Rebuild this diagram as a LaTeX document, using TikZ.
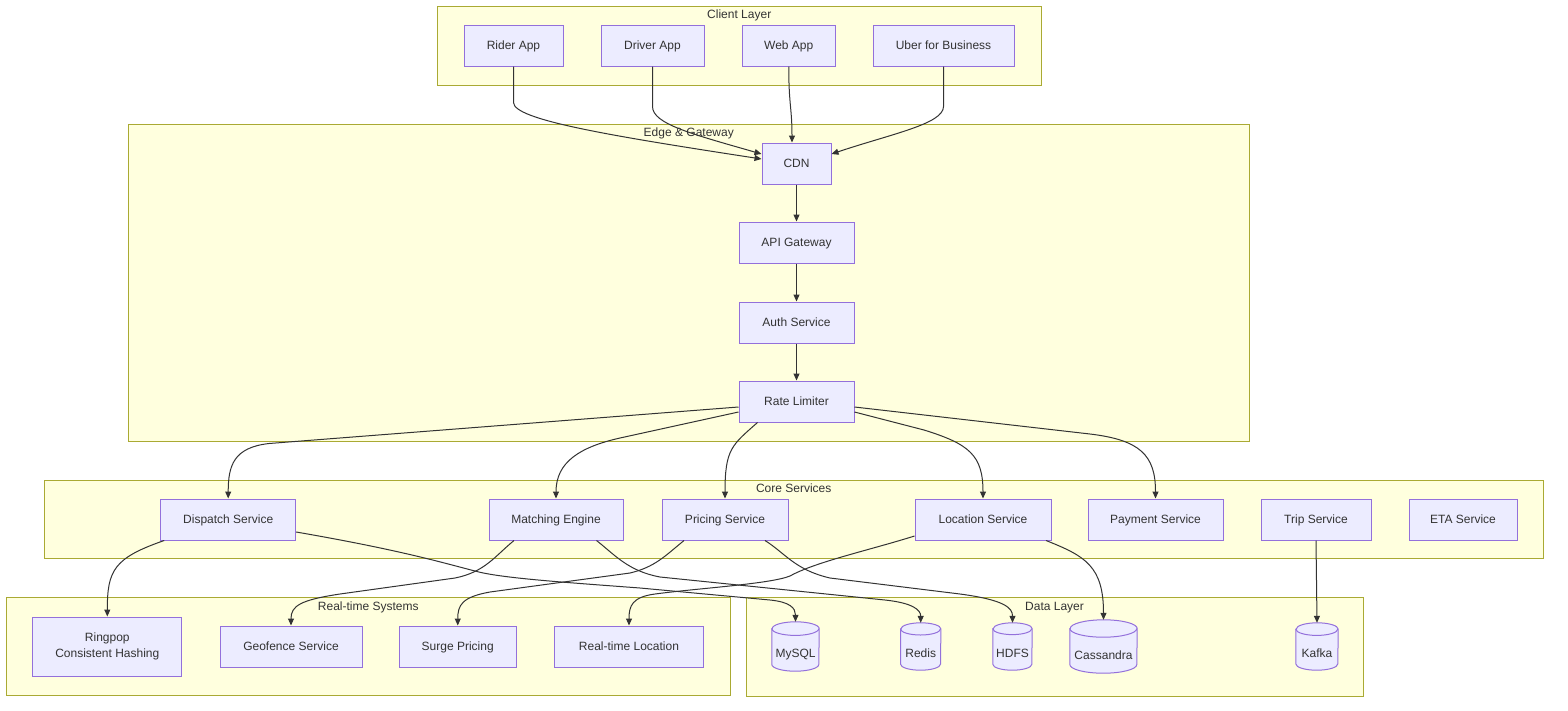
\documentclass[tikz,border=0pt]{standalone}
\usepackage{fontspec}
\setmainfont{Liberation Sans}
\usetikzlibrary{arrows.meta}
\definecolor{nodefill}{HTML}{ECECFF}
\definecolor{nodestroke}{HTML}{9370DB}
\definecolor{clfill}{HTML}{FFFFDE}
\definecolor{clstroke}{HTML}{AAAA33}
\definecolor{edgec}{HTML}{333333}
\definecolor{textc}{HTML}{333333}
\newcommand{\dbcyl}[3]{%
  \filldraw[dbshape] ([yshift=-#3pt]#1.north west) -- ([yshift=#3pt]#1.south west)
    arc[start angle=180,end angle=360,x radius=#2pt,y radius=#3pt]
    -- ([yshift=-#3pt]#1.north east)
    arc[start angle=0,end angle=180,x radius=#2pt,y radius=#3pt] -- cycle;
  \draw[dbshape,fill=none] ([yshift=-#3pt]#1.north west)
    arc[start angle=180,end angle=360,x radius=#2pt,y radius=#3pt];
}
\tikzset{
  box/.style={draw=nodestroke, fill=nodefill, line width=1pt, minimum height=41pt,
    inner sep=0pt, text=textc, font=\fontsize{12}{15}\selectfont, align=center},
  onel/.style={text height=9pt, text depth=2pt},
  cluster/.style={draw=clstroke, fill=clfill, line width=1pt, inner sep=0pt},
  ctitle/.style={text=textc, font=\fontsize{12}{15}\selectfont, inner sep=0pt, text height=9pt, text depth=2pt},
  edge/.style={draw=edgec, line width=1pt, -{Triangle[length=7pt,width=6pt]}},
  dbshape/.style={draw=nodestroke, fill=nodefill, line width=1pt},
  dbanchor/.style={draw=none, fill=none, inner sep=0pt},
  dbtext/.style={text=textc, font=\fontsize{12}{15}\selectfont, inner sep=0pt, text height=9pt, text depth=2pt},
}
\begin{document}
\begin{tikzpicture}[x=1pt,y=-1pt]
\useasboundingbox (0,0) rectangle (1568,710);
\fill[white] (0,0) rectangle (1568,710);

% clusters
\node[cluster, minimum width=604.5pt, minimum height=79pt] (clientL) at (739.25,45.5) {};
\node[ctitle] (clientT) at (739.25,15) {Client Layer};
\node[cluster, minimum width=1121.5pt, minimum height=317.5pt] (edgeL) at (688.75,282.75) {};
\node[ctitle] (edgeT) at (688.75,133) {Edge \& Gateway};
\node[cluster, minimum width=1498.6pt, minimum height=78pt] (coreL) at (793.7,519) {};
\node[ctitle] (coreT) at (793.7,489) {Core Services};
\node[cluster, minimum width=724.6pt, minimum height=97.3pt] (rtL) at (368.3,646.35) {};
\node[ctitle] (rtT) at (368.3,607) {Real-time Systems};
\node[cluster, minimum width=617pt, minimum height=99pt] (dataL) at (1054.5,646.5) {};
\node[ctitle] (dataT) at (1054.5,607) {Data Layer};

% client layer
\node[box, onel, minimum width=99pt] (rider) at (513.5,45.5) {Rider App};
\node[box, onel, minimum width=103pt] (driver) at (652.5,45.5) {Driver App};
\node[box, onel, minimum width=93.5pt] (web) at (788.75,45.5) {Web App};
\node[box, onel, minimum width=141pt] (ufb) at (943.5,45.5) {Uber for Business};

% edge & gateway
\node[box, onel, minimum width=69pt] (cdn) at (796.5,163.5) {CDN};
\node[box, onel, minimum width=115pt] (api) at (796.5,242.5) {API Gateway};
\node[box, onel, minimum width=115pt] (auth) at (796.5,322.5) {Auth Service};
\node[box, onel, minimum width=115pt] (rate) at (796.5,401.5) {Rate Limiter};

% core services
\node[box, onel, minimum width=135pt] (dispatch) at (228.2,519.5) {Dispatch Service};
\node[box, onel, minimum width=134pt] (matching) at (556,519.5) {Matching Engine};
\node[box, onel, minimum width=126pt] (pricing) at (725,519.5) {Pricing Service};
\node[box, onel, minimum width=136pt] (location) at (983,519.5) {Location Service};
\node[box, onel, minimum width=135pt] (payment) at (1155.5,519.5) {Payment Service};
\node[box, onel, minimum width=110pt] (trip) at (1316,519.5) {Trip Service};
\node[box, onel, minimum width=108pt] (eta) at (1463,519.5) {ETA Service};

% real-time systems
\node[box, minimum width=149pt, minimum height=59pt] (ringpop) at (107.3,646.5) {Ringpop\\[1pt]Consistent Hashing};
\node[box, onel, minimum width=142pt] (geofence) at (291,646.5) {Geofence Service};
\node[box, onel, minimum width=116.5pt] (surge) at (457.75,646.5) {Surge Pricing};
\node[box, onel, minimum width=149pt] (rtloc) at (629,646.5) {Real-time Location};

% data layer
\node[dbanchor, minimum width=47pt, minimum height=49pt] (mysql) at (795.5,646.5) {};
\node[dbanchor, minimum width=40pt, minimum height=47pt] (redis) at (920.7,646.5) {};
\node[dbanchor, minimum width=39pt, minimum height=47pt] (hdfs) at (1012.5,646.5) {};
\node[dbanchor, minimum width=67pt, minimum height=53pt] (cassandra) at (1103.5,646.5) {};
\node[dbanchor, minimum width=42pt, minimum height=47pt] (kafka) at (1317,646.5) {};
\dbcyl{mysql}{23.5}{6.8}
\dbcyl{redis}{20}{6.1}
\dbcyl{hdfs}{19.5}{5.9}
\dbcyl{cassandra}{33.5}{8.7}
\dbcyl{kafka}{21}{6.3}
\node[dbtext] (mysqlT) at (795.5,654) {MySQL};
\node[dbtext] (redisT) at (920.7,653.5) {Redis};
\node[dbtext] (hdfsT) at (1012.5,653.5) {HDFS};
\node[dbtext] (cassandraT) at (1103.5,655.5) {Cassandra};
\node[dbtext] (kafkaT) at (1317,653.5) {Kafka};

% client -> cdn
\draw[edge] (rider.south) -- ++(0,36) .. controls (513.5,120) and (612,136) .. ([yshift=4.5pt]cdn.west);
\draw[edge] (driver.south) -- ++(0,40) .. controls (652.5,124) and (692,134) .. ([yshift=9.5pt]cdn.west);
\draw[edge] (web.south) .. controls (788.75,105) and (792,108) .. ([xshift=-4.5pt]cdn.north);
\draw[edge] (ufb.south) -- ++(0,40) .. controls (943.5,124) and (891,134) .. ([yshift=9.5pt]cdn.east);

% gateway chain
\draw[edge] (cdn.south) -- (api.north);
\draw[edge] (api.south) -- (auth.north);
\draw[edge] (auth.south) -- (rate.north);

% rate limiter -> core
\draw[edge] ([yshift=-5.5pt]rate.west) -- (269,443.5) .. controls (234,447.5) and (228.2,465) .. (dispatch.north);
\draw[edge] ([yshift=-10.5pt]rate.west) -- (620,438) .. controls (580,447) and (556,462) .. (matching.north);
\draw[edge] ([xshift=-39pt]rate.south) .. controls (732,445) and (725,449) .. (pricing.north);
\draw[edge] ([yshift=-10.5pt]rate.east) -- (924,430) .. controls (969,444) and (983,455) .. (location.north);
\draw[edge] ([yshift=-5.5pt]rate.east) -- (1090,434) .. controls (1140,440) and (1155.5,455) .. (payment.north);

% core -> real-time / data
\draw[edge] ([xshift=-64pt]dispatch.south) .. controls (114,558) and (107.3,570) .. (ringpop.north);
\draw[edge] ([yshift=-12.5pt]dispatch.east) .. controls (400,550) and (440,562) .. (475,571)
   .. controls (500,578) and (560,582) .. (640,588) -- (770,600) .. controls (790,602) and (795.5,608) .. (mysql.north);
\draw[edge] ([xshift=-42pt]matching.south) .. controls (495,556) and (485,572) .. (455,578)
   -- (340,594) .. controls (300,600) and (291,606) .. (geofence.north);
\draw[edge] ([xshift=40.5pt]matching.south) .. controls (615,555) and (628,571) .. (660,577)
   -- (885,600) .. controls (913,603) and (920.7,610) .. (redis.north);
\draw[edge] ([xshift=-41pt]pricing.south) .. controls (665,556) and (655,567) .. (630,573)
   -- (490,592) .. controls (462,597) and (457.75,605) .. (surge.north);
\draw[edge] ([xshift=40pt]pricing.south) .. controls (785,553) and (795,570) .. (830,578)
   -- (960,594) .. controls (1005,600) and (1012.5,608) .. (hdfs.north);
\draw[edge] ([yshift=-16.5pt]location.west) .. controls (870,550) and (815,562) .. (790,576)
   .. controls (770,584) and (700,588) .. (655,594) .. controls (632,597) and (629,606) .. (rtloc.north);
\draw[edge] ([xshift=63pt]location.south) .. controls (1085,556) and (1103.5,566) .. (cassandra.north);
\draw[edge] (trip.south) -- (kafka.north);
\end{tikzpicture}
\end{document}
